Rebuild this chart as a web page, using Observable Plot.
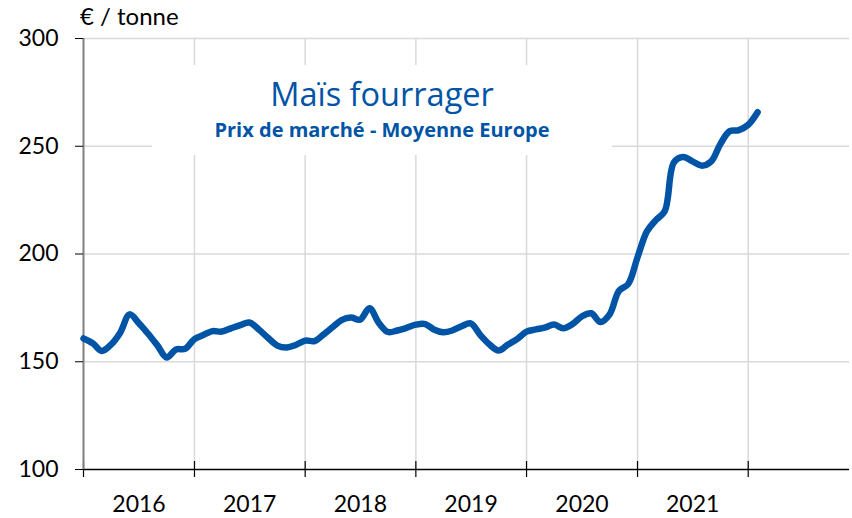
<!DOCTYPE html>
<html><head><meta charset="utf-8">
<script src="https://cdn.jsdelivr.net/npm/d3@7"></script>
<script src="https://cdn.jsdelivr.net/npm/@observablehq/plot@0.6"></script>
<style>body{margin:0;background:#fff} #chart{position:relative;width:852px;height:518px}</style>
</head><body><div id="chart"></div>
<script>
// Monthly series, Jan 2016 .. Feb 2022 (€ / tonne)
const firstMonth = "2016-01-01";
const afterLastMonth = "2022-03-01";
const prices = [
  160.8, 158.5, 155.0, 158.0, 163.5, 172.0, 168.0, 163.0, 157.5, 152.0, 155.7, 156.0,
  160.5, 162.5, 164.2, 164.0, 165.5, 167.0, 168.2, 165.0, 161.0, 157.5, 156.6, 157.8,
  159.8, 159.6, 162.5, 166.0, 169.3, 170.5, 169.5, 174.8, 168.0, 163.8, 164.5, 165.7,
  167.2, 167.5, 165.0, 163.7, 164.5, 166.5, 167.8, 162.5, 158.0, 155.2, 158.0, 160.5,
  164.0, 165.0, 165.8, 167.3, 165.5, 167.5, 171.0, 172.5, 168.4, 172.0, 183.0, 186.0,
  198.5, 210.5, 215.5, 220.0, 242.5, 245.0, 243.0, 241.0, 243.0, 251.0, 257.0, 257.5,
  260.0, 265.8
];
const yearBoundaries = ["2016", "2017", "2018", "2019", "2020", "2021", "2022"];
const yearLabels = ["2016", "2017", "2018", "2019", "2020", "2021"];
const yTicks = [100, 150, 200, 250, 300];
const yGrid = [150, 200, 250, 300];
const unitLabel = "€ / tonne";
const titleText = "Maïs fourrager";
const subtitleText = "Prix de marché - Moyenne Europe";

const dates = d3.utcMonth.range(new Date(firstMonth), new Date(afterLastMonth));
const data = dates.map((d, i) => ({date: d, price: prices[i]}));
const yearStarts = yearBoundaries.map(y => new Date(`${y}-01-01`));
const yearMids = yearLabels.map(y => new Date(`${y}-07-02`));

const blue = "#0054a6";
const font = "Lato, 'Open Sans', sans-serif";
const titleFont = "'Open Sans', Lato, sans-serif";

const chart = Plot.plot({
  width: 852, height: 518,
  marginLeft: 83, marginRight: 3, marginTop: 38, marginBottom: 49,
  style: {fontFamily: font, fontSize: "23px", color: "#000", background: "#fff", overflow: "visible"},
  x: {type: "utc", domain: [new Date("2016-01-01"), new Date("2022-12-01")]},
  y: {domain: [100, 300]},
  marks: [
    Plot.ruleY(yGrid, {stroke: "#d9d9d9", strokeWidth: 1.5}),
    Plot.ruleX(yearStarts.slice(1), {stroke: "#d9d9d9", strokeWidth: 1.5}),
    Plot.ruleX(yearStarts, {y1: 100, y2: 100, insetTop: -8, insetBottom: -8, stroke: "#000", strokeWidth: 1.2}),
    Plot.ruleY([100], {stroke: "#000", strokeWidth: 1.5}),
    Plot.ruleX([yearStarts[0]], {stroke: "#7f7f7f", strokeWidth: 2}),
    Plot.axisY({ticks: yTicks, tickSize: 8, tickPadding: 17, tickFormat: d => d, label: null}),
    Plot.axisX({ticks: yearMids, tickSize: 0, tickPadding: 26, tickFormat: d3.utcFormat("%Y"), label: null}),
    Plot.line(data, {x: "date", y: "price", stroke: blue, strokeWidth: 6.5, curve: "catmull-rom",
      strokeLinecap: "round", strokeLinejoin: "round"})
  ]
});

const svg = d3.select(chart);
svg.append("text").attr("x", 80).attr("y", 25).attr("font-size", 24).attr("fill", "#000")
  .attr("text-anchor", "start").attr("font-family", font).text(unitLabel);
const box = svg.append("g");
box.append("rect").attr("x", 152).attr("y", 65).attr("width", 460).attr("height", 90).attr("fill", "#fff");
box.append("text").attr("x", 382).attr("y", 106).attr("text-anchor", "middle").attr("font-size", 32.5)
  .attr("font-family", titleFont).attr("fill", blue).text(titleText);
box.append("text").attr("x", 382).attr("y", 137).attr("text-anchor", "middle").attr("font-size", 20)
  .attr("font-weight", "bold").attr("font-family", titleFont).attr("fill", blue).text(subtitleText);

document.getElementById("chart").appendChild(chart);
</script>
</body></html>
